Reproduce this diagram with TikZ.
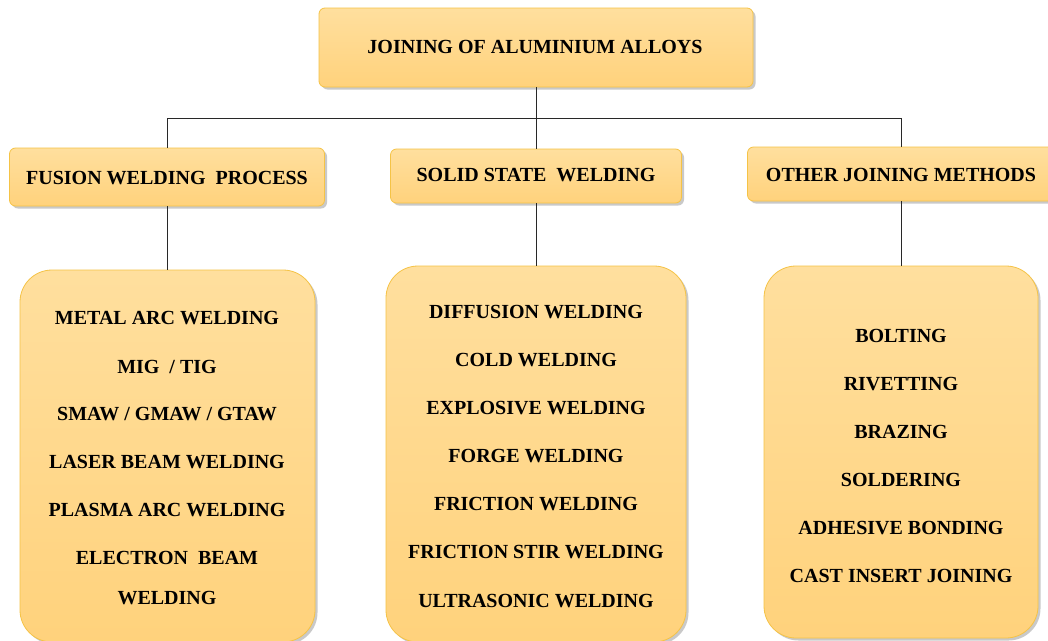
\documentclass[tikz,border=0pt]{standalone}
\usepackage{fontspec}
\setmainfont{Liberation Serif}[BoldFont={Liberation Serif Bold}]
\newfontfamily\timesbold{Liberation Serif Bold}
\usetikzlibrary{shadows}
\definecolor{boxtop}{RGB}{255,223,158}
\definecolor{boxbot}{RGB}{255,210,124}
\definecolor{boxedge}{RGB}{245,195,70}
\definecolor{linecol}{RGB}{40,40,40}
\tikzset{
  smallbox/.style={rectangle, rounded corners=6pt, draw=boxedge, line width=0.8pt,
    top color=boxtop, bottom color=boxbot, inner sep=0pt,
    drop shadow={shadow xshift=2.5pt, shadow yshift=-2.5pt, opacity=0.35, fill=black!60}},
  bigbox/.style={smallbox, rounded corners=32pt},
  item/.style={anchor=base, inner sep=0pt, font=\fontsize{20}{24}\selectfont\timesbold},
  conn/.style={draw=linecol, line width=0.8pt}
}
\begin{document}
\begin{tikzpicture}[x=1pt,y=-1pt]
\useasboundingbox (0,0) rectangle (1048,640);
\clip (0,0) rectangle (1048,640);
\fill[white] (0,0) rectangle (1048,640);
\coordinate (bus) at (536,118);
% boxes
\node[smallbox, minimum width=434pt, minimum height=79pt] (top) at (536,47.5) {};
\node[smallbox, minimum width=315pt, minimum height=58pt] (fus) at (167,177) {};
\node[smallbox, minimum width=291pt, minimum height=54pt] (sol) at (536,176) {};
\node[smallbox, minimum width=307pt, minimum height=54pt] (oth) at (901,174) {};
\node[bigbox, minimum width=295pt, minimum height=372pt] (fusbig) at (167.5,456) {};
\node[bigbox, minimum width=300pt, minimum height=376pt] (solbig) at (536,454) {};
\node[bigbox, minimum width=274pt, minimum height=372pt] (othbig) at (901,452) {};
% connectors
\draw[conn] (top.south) -- (sol.north);
\draw[conn] (fus.north) -- (fus.north |- bus) -- (oth.north |- bus) -- (oth.north);
\draw[conn] (fus.south) -- (fus.south |- fusbig.north);
\draw[conn] (sol.south) -- (sol.south |- solbig.north);
\draw[conn] (oth.south) -- (oth.south |- othbig.north);
% titles
\node[item] (ttop) at (535,53.5) {JOINING OF ALUMINIUM ALLOYS};
\node[item] (tfus) at (167,184) {FUSION WELDING\ \ PROCESS};
\node[item] (tsol) at (536,181) {SOLID STATE\ \ WELDING};
\node[item] (toth) at (901,181) {OTHER JOINING METHODS};
% fusion items
\node[item] (f1) at (167,324) {METAL ARC WELDING};
\node[item] (f2) at (167,373) {MIG\ \ / TIG};
\node[item] (f3) at (167,420) {SMAW / GMAW / GTAW};
\node[item] (f4) at (167,468) {LASER BEAM WELDING};
\node[item] (f5) at (167,516) {PLASMA ARC WELDING};
\node[item] (f6) at (167,564) {ELECTRON\ \ BEAM};
\node[item] (f7) at (167,604) {WELDING};
% solid items
\node[item] (s1) at (536,318) {DIFFUSION WELDING};
\node[item] (s2) at (536,366) {COLD WELDING};
\node[item] (s3) at (536,414) {EXPLOSIVE WELDING};
\node[item] (s4) at (536,462) {FORGE WELDING};
\node[item] (s5) at (536,510) {FRICTION WELDING};
\node[item] (s6) at (536,558) {FRICTION STIR WELDING};
\node[item] (s7) at (536,607) {ULTRASONIC WELDING};
% other items
\node[item] (o1) at (901,342) {BOLTING};
\node[item] (o2) at (901,390) {RIVETTING};
\node[item] (o3) at (901,438) {BRAZING};
\node[item] (o4) at (901,486) {SOLDERING};
\node[item] (o5) at (901,534) {ADHESIVE BONDING};
\node[item] (o6) at (901,582) {CAST INSERT JOINING};
\end{tikzpicture}
\end{document}
